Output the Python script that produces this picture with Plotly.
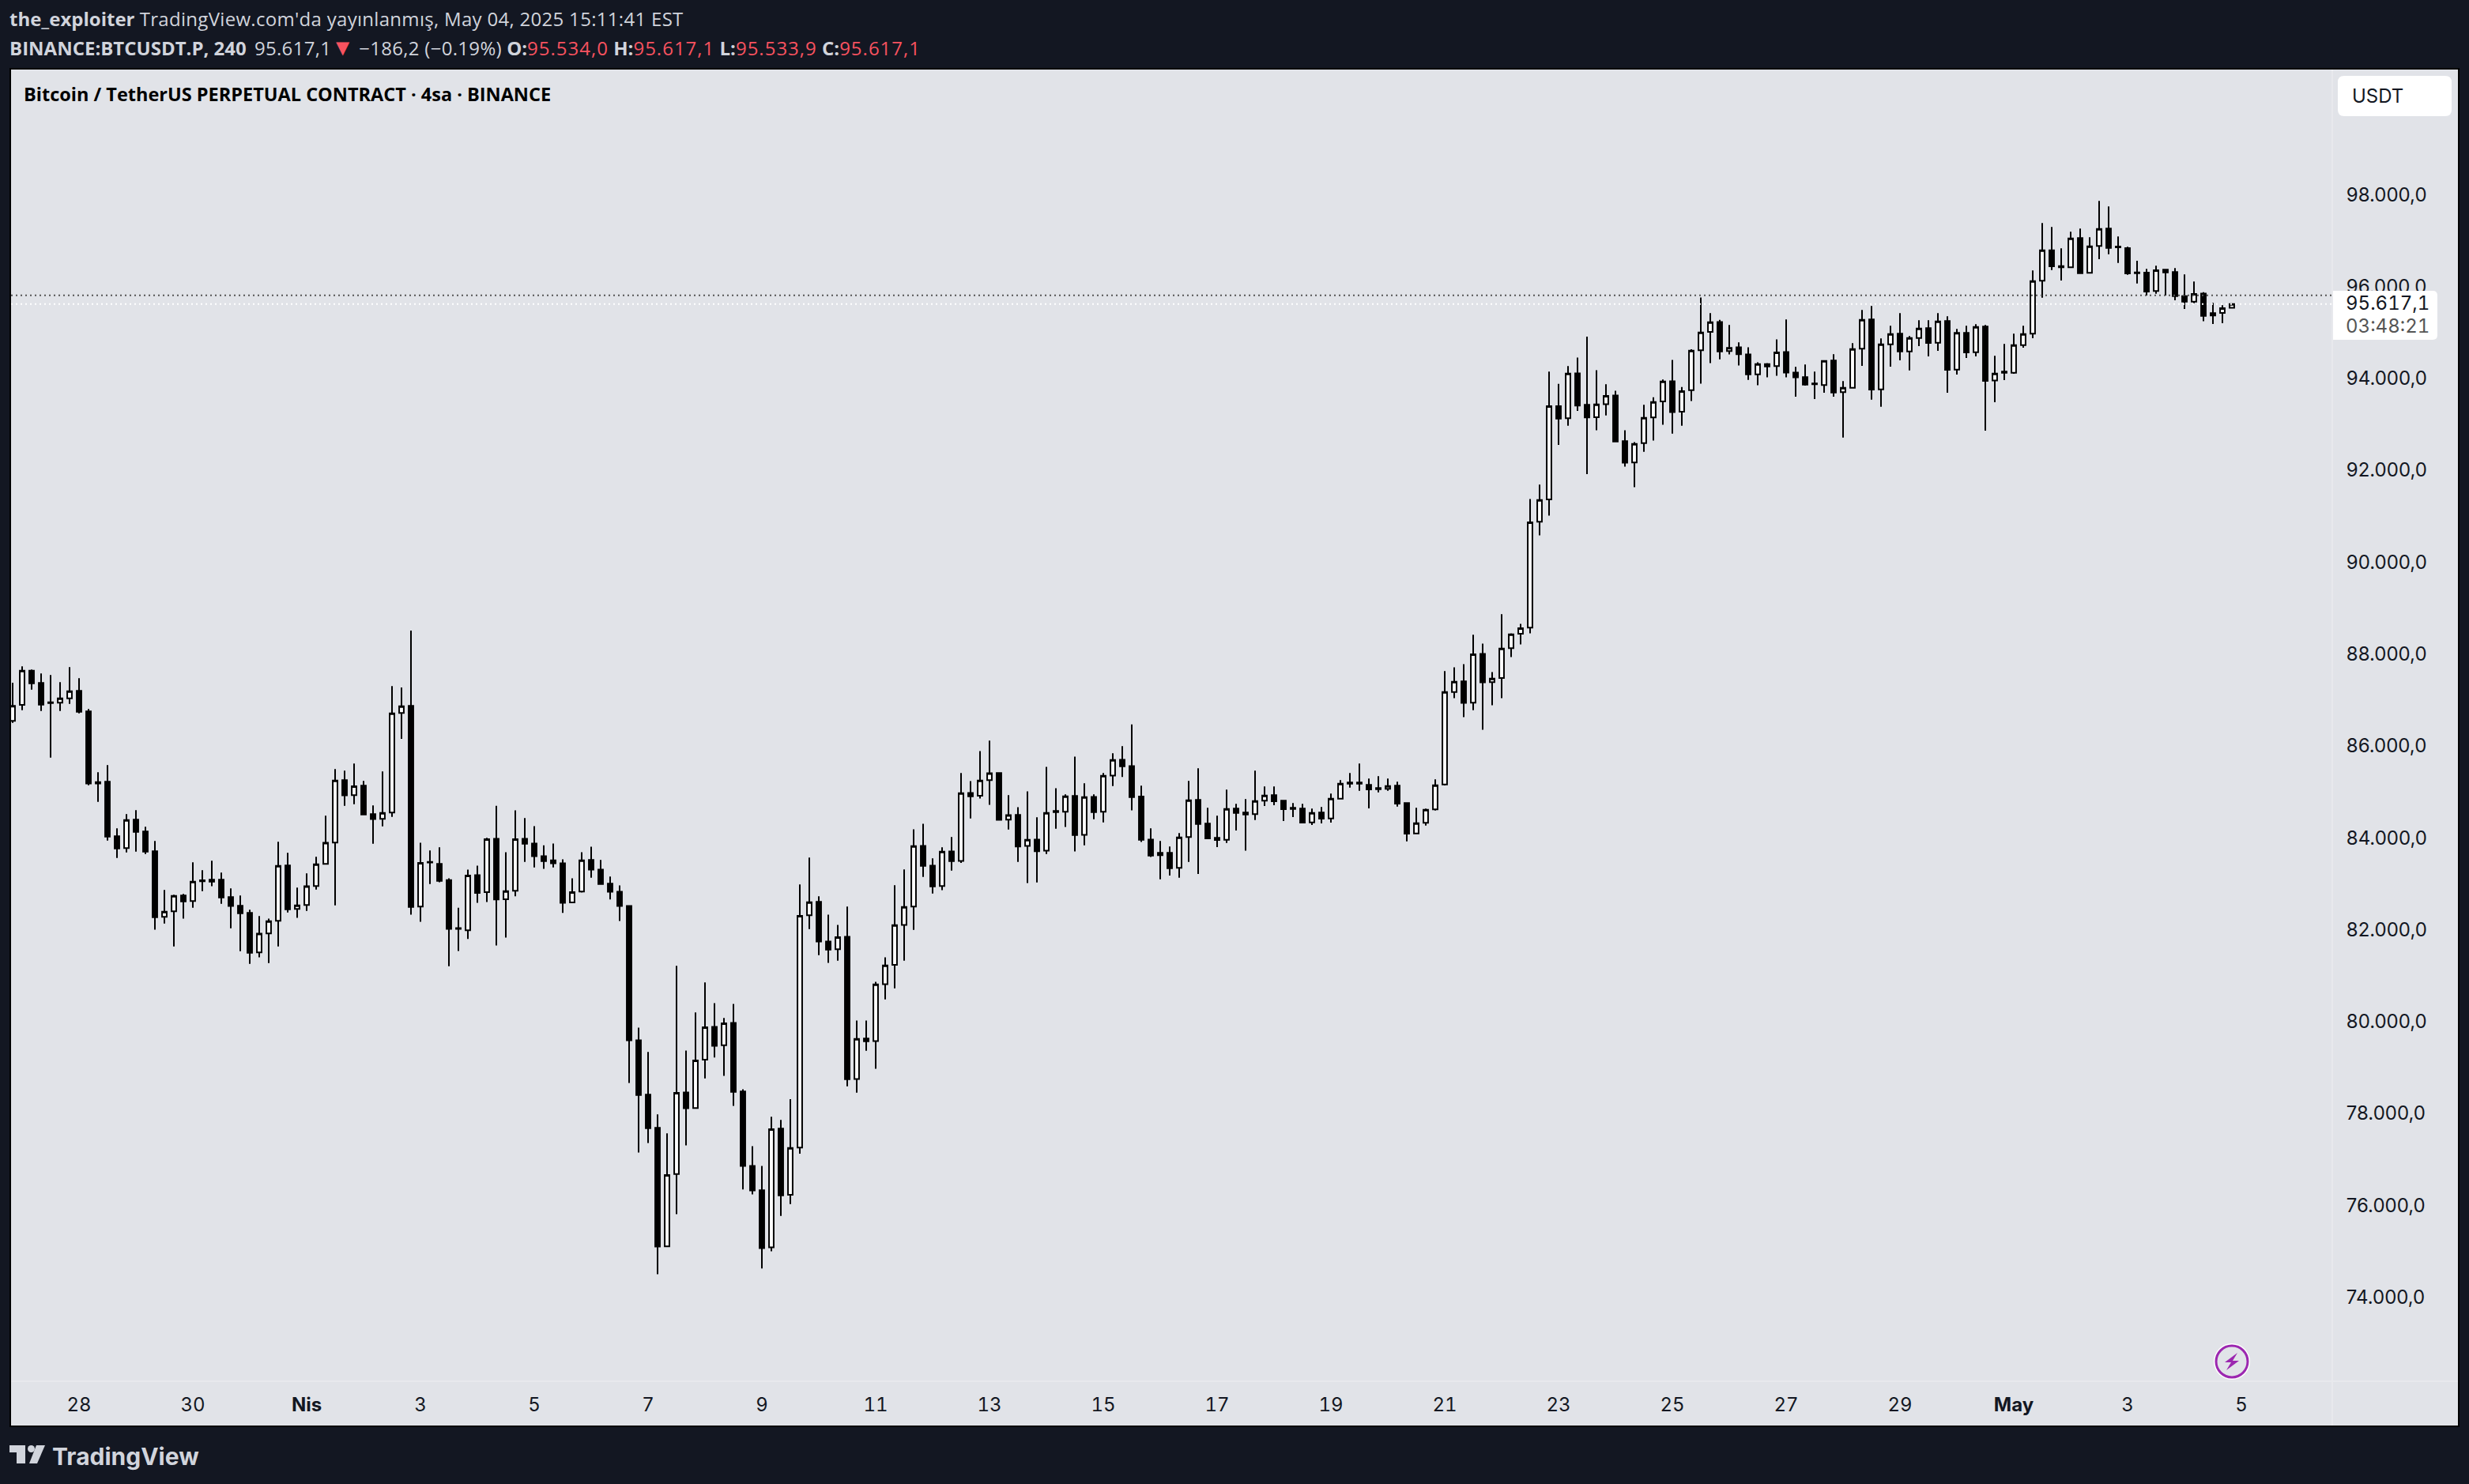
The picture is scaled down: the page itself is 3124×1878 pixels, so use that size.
import pandas as pd
import plotly.graph_objects as go

opens = [
 86542,86892,87637,87368,86949,86938,87035,87196,86748,85212,
 85218,84031,83773,84392,84134,83704,82277,82397,82741,82621,
 83073,83085,83085,82707,82517,82363,81502,81915,82191,83395,
 82449,82535,82947,83429,83893,85252,84925,85132,84513,84409,
 84547,86714,86869,82500,83475,83429,83076,82032,81986,83184,
 82815,83974,82662,82846,83974,83875,83598,83506,83445,82593,
 82830,83514,83307,82999,82823,82516,79590,78408,77686,75107,
 76680,78454,78116,79168,79882,79483,79967,78477,76857,76327,
 75083,77667,76228,77254,82313,82603,81740,81571,81842,78747,
 79628,79574,80810,81233,82102,82500,83821,83393,82947,83701,
 83496,84974,84914,85252,85408,84395,84497,83821,83960,83719,
 84582,84564,84908,84063,84889,84564,85354,85698,85559,84895,
 83960,83670,83670,83343,84014,84822,84306,83996,83956,84633,
 84547,84512,84805,84925,84805,84650,84633,84335,84547,84421,
 84851,85200,85200,85149,85080,85063,85132,84753,84094,84323,
 84616,85158,87171,87403,86940,87999,87388,87477,88126,88440,
 88574,90879,91363,93392,93131,94108,93422,93154,93437,93624,
 92631,92169,92587,93146,93497,93937,93273,93743,94608,95011,
 95227,94593,94675,94519,94086,94310,94265,94571,94123,94024,
 93886,93852,94385,93697,93795,94643,95280,93760,94741,94970,
 94586,94878,95090,94775,95245,94190,94987,94569,95125,93950,
 94144,94121,94723,94970,96122,96787,96443,96415,97051,96294,
 96879,97258,96868,96833,96306,96300,95899,96363,96312,95790,
 95669,95842,95417,95423,95534.0]
highs = [
 87373,87729,87660,87574,87540,87385,87712,87471,86800,85424,
 85579,84203,84512,84599,84237,83928,82861,82758,82775,83463,
 83291,83498,83240,82896,82741,82431,82294,82237,83910,83670,
 82913,83223,83584,84478,85493,85458,85613,85235,84702,85441,
 87299,87270,88508,83890,83721,83790,83115,82477,83307,83391,
 83998,84696,83683,84596,84428,84251,83836,83875,83529,83115,
 83683,83806,83514,83153,82961,82531,79867,79337,77978,77563,
 81210,79368,80197,80850,80397,80074,80381,78523,77287,76857,
 77924,77856,78309,82983,83568,82723,82325,82102,82500,80020,
 80020,80865,81396,82965,83309,84184,84304,83550,83791,84015,
 85408,85233,85885,86114,85414,84926,84666,85010,84443,85541,
 85077,84944,85764,85185,84944,85408,85837,85994,86464,85131,
 84203,83928,83807,84100,85235,85510,84650,84478,85046,84736,
 84839,85458,85114,85114,84822,84753,84736,84633,84667,84960,
 85252,85407,85613,85286,85338,85286,85218,84770,84650,84633,
 85269,87627,87708,87776,88417,88223,87604,88865,88447,88656,
 91371,91684,94146,93877,94265,94451,94906,94175,93870,93728,
 92870,92609,93422,93586,93974,94399,93810,94630,95760,95420,
 95272,95160,94780,94675,94347,94332,94847,95279,94248,94299,
 94144,94391,94523,93938,94764,95486,95572,94867,95142,95417,
 94918,95262,95262,95417,95348,95073,95142,95176,95159,94488,
 94746,94970,95142,96346,97378,97292,96827,97189,97258,97068,
 97859,97739,97086,96862,96558,96380,96449,96363,96398,96260,
 96105,95876,95641,95589,95617.1]
lows = [
 86502,86777,87224,86760,85745,86760,86915,86708,85143,84782,
 83939,83561,83681,83698,83647,81996,82133,81634,82237,82477,
 82838,82942,82563,82030,81531,81256,81394,81273,81634,82374,
 82254,82408,82873,83429,82529,84696,84730,84507,83870,84249,
 84455,86152,82324,82170,82992,83030,81203,81533,81794,82585,
 82600,81656,81825,82723,83475,83353,83322,83353,82362,82593,
 82807,83130,82992,82654,82186,78661,77149,77356,74500,75091,
 75805,77302,78101,78761,79214,78815,78162,76343,76235,74623,
 74999,75769,76027,77122,82011,81444,81275,81323,78590,78451,
 79362,78970,80479,80720,81323,81993,83146,82784,82856,83284,
 83453,84419,84853,84715,84389,84177,83471,83013,83025,83647,
 84196,84232,83701,83834,84401,84334,85125,85324,84594,83906,
 83580,83096,83177,83131,83475,83211,83985,83796,83887,84157,
 83716,84386,84690,84707,84363,84449,84312,84277,84312,84329,
 84851,85091,85023,84639,84988,85023,84679,83922,84077,84266,
 84593,85135,87037,86627,86776,86351,86881,87037,87932,88208,
 88447,90580,91013,92549,92967,93288,91915,92870,93191,92624,
 92079,91632,92400,92646,92990,92796,92967,93504,93885,94332,
 94414,94519,94280,93967,93847,94019,94056,94019,93600,93840,
 93548,93686,93600,92711,93795,94271,93537,93382,94253,94391,
 94173,94700,94477,94597,93686,94081,94443,94477,92860,93479,
 93961,94099,94666,94872,95755,96357,96128,96415,96289,96294,
 96592,96701,96512,96254,96065,95801,95841,95801,95698,95509,
 95635,95240,95182,95199,95533.9]
closes = [
 86869,87637,87362,86897,86932,87035,87190,86743,85178,85178,
 84025,83767,84386,84128,83698,82271,82391,82735,82615,83045,
 83051,83045,82701,82512,82357,81497,81910,82185,83389,82443,
 82529,82942,83423,83888,85246,84920,85120,84507,84404,84541,
 86708,86863,82493,83452,83460,83061,82017,82017,83176,82800,
 83967,82654,82838,83967,83867,83598,83491,83445,82585,82815,
 83506,83307,82992,82823,82516,79590,78400,77678,75099,76657,
 78446,78109,79153,79874,79468,79959,78469,76857,76320,75068,
 77655,76216,77248,82301,82597,81740,81565,81836,78741,79622,
 79567,80805,81221,82096,82494,83815,83387,82940,83695,83490,
 84968,84902,85245,85402,84389,84491,83809,83954,83707,84540,
 84558,84902,84057,84883,84558,85348,85692,85553,84883,83954,
 83610,83618,83337,84008,84816,84300,83985,83951,84627,84541,
 84507,84799,84919,84793,84621,84627,84329,84541,84415,84851,
 85177,85177,85177,85051,85057,85126,84742,84088,84317,84610,
 85143,87171,87395,86933,87992,87380,87462,88119,88425,88559,
 90864,91349,93392,93124,94101,93407,93146,93430,93616,92624,
 92162,92572,93139,93482,93929,93265,93720,94601,94996,95220,
 94586,94660,94526,94086,94310,94258,94563,94123,94019,93862,
 93869,94379,93691,93795,94637,95274,93755,94741,94964,94586,
 94878,95085,94769,95239,94185,94987,94563,95119,93944,94104,
 94121,94723,94964,96117,96787,96438,96415,97045,96289,96873,
 97252,96839,96850,96283,96289,95887,96352,96306,95790,95669,
 95836,95360,95366,95526,95617.1]

first_candle = "2025-03-26 20:00"
times = pd.date_range(first_candle, periods=len(opens), freq="4h")

price_ticks = [98000, 96000, 94000, 92000, 90000, 88000, 86000, 84000, 82000, 80000, 78000, 76000, 74000]
price_labels = ["98.000,0", "96.000,0", "94.000,0", "92.000,0", "90.000,0", "88.000,0", "86.000,0",
                "84.000,0", "82.000,0", "80.000,0", "78.000,0", "76.000,0", "74.000,0"]
time_ticks = ["2025-03-28", "2025-03-30", "2025-04-01", "2025-04-03", "2025-04-05", "2025-04-07", "2025-04-09",
              "2025-04-11", "2025-04-13", "2025-04-15", "2025-04-17", "2025-04-19", "2025-04-21", "2025-04-23",
              "2025-04-25", "2025-04-27", "2025-04-29", "2025-05-01", "2025-05-03", "2025-05-05"]
time_labels = ["28", "30", "<b>Nis</b>", "3", "5", "7", "9", "11", "13", "15", "17", "19", "21", "23", "25", "27",
               "29", "<b>May</b>", "3", "5"]
last_price = 95617.1
prev_close = 95803.3

W, H = 3124, 1878
L, R, T, B = 14, 2951, 88, 1748
BG = "#131722"
PANEL = "#E1E3E8"
TXT = "#D1D4DC"
RED = "#F7525F"
UI = "Inter, Roboto, sans-serif"
HEAD = "'Open Sans', 'Noto Sans', sans-serif"
TNUM = "font-feature-settings:\"tnum\""

def tab(text):
    return f"<span style='font-feature-settings:\"tnum\"'>{text}</span>"

def fx(x):
    return (x - L) / (R - L)

def fy(y):
    return (B - y) / (B - T)

def poly(points):
    return "M" + " L".join(f"{fx(x):.6f},{fy(y):.6f}" for x, y in points) + " Z"

def rrect(x0, y0, x1, y1, r0, r1):
    return (f"M{fx(x0+r0):.6f},{fy(y0):.6f} L{fx(x1-r1):.6f},{fy(y0):.6f} Q{fx(x1):.6f},{fy(y0):.6f} {fx(x1):.6f},{fy(y0+r1):.6f} "
            f"L{fx(x1):.6f},{fy(y1-r1):.6f} Q{fx(x1):.6f},{fy(y1):.6f} {fx(x1-r1):.6f},{fy(y1):.6f} "
            f"L{fx(x0+r0):.6f},{fy(y1):.6f} Q{fx(x0):.6f},{fy(y1):.6f} {fx(x0):.6f},{fy(y1-r0):.6f} "
            f"L{fx(x0):.6f},{fy(y0+r0):.6f} Q{fx(x0):.6f},{fy(y0):.6f} {fx(x0+r0):.6f},{fy(y0):.6f} Z")

def paper_shape(**kw):
    return dict(xref="paper", yref="paper", **kw)

shapes = [
    paper_shape(type="rect", x0=fx(13), x1=fx(3111), y0=fy(87), y1=fy(1805), fillcolor=PANEL,
                line=dict(color="#000000", width=2), layer="below"),
    paper_shape(type="line", x0=fx(R), x1=fx(R), y0=fy(88), y1=fy(1804), line=dict(color="#E8E9ED", width=2), layer="below"),
    paper_shape(type="line", x0=fx(14), x1=fx(3110), y0=fy(B), y1=fy(B), line=dict(color="#E8E9ED", width=2), layer="below"),
    # price lines
    dict(type="line", xref="paper", yref="y", x0=0, x1=1, y0=prev_close, y1=prev_close,
         line=dict(color="#555555", width=2, dash="2px,4px"), layer="above"),
    dict(type="line", xref="paper", yref="y", x0=0, x1=1, y0=last_price, y1=last_price,
         line=dict(color="#FFFFFF", width=2, dash="2px,4px"), layer="above"),
    # last price tag
    paper_shape(type="path", path=rrect(2952, 368, 3084, 430, 0, 6), fillcolor="#FFFFFF", line=dict(width=0), layer="above"),
    # currency button
    paper_shape(type="path", path=rrect(2958, 96, 3102, 147, 8, 8), fillcolor="#FFFFFF", line=dict(width=0), layer="above"),
    # flash icon
    paper_shape(type="circle", x0=fx(2801), x1=fx(2847), y0=fy(1700), y1=fy(1746), fillcolor="#FFFFFF", line=dict(width=0), layer="above"),
    paper_shape(type="circle", x0=fx(2804), x1=fx(2844), y0=fy(1703), y1=fy(1743), fillcolor=PANEL, line=dict(color="#9C27B0", width=3), layer="above"),
    paper_shape(type="path", path=poly([(2831, 1712), (2815, 1724), (2823, 1724), (2817, 1734), (2833, 1722), (2825, 1722)]),
                fillcolor="#9C27B0", line=dict(width=0), layer="above"),
    # logo
    paper_shape(type="path", path=poly([(12, 1829), (32, 1829), (32, 1852), (21, 1852), (21, 1838), (12, 1838)]),
                fillcolor=TXT, line=dict(width=0), layer="above"),
    paper_shape(type="circle", x0=fx(35), x1=fx(44), y0=fy(1829), y1=fy(1838), fillcolor=TXT, line=dict(width=0), layer="above"),
    paper_shape(type="path", path=poly([(46, 1829), (57, 1829), (47, 1852), (37, 1852)]), fillcolor=TXT, line=dict(width=0), layer="above"),
]

def note(x, y, text, size, color, font=HEAD, anchor="left"):
    return dict(xref="paper", yref="paper", x=fx(x), y=fy(y), xanchor=anchor, yanchor="middle", showarrow=False,
                text=text, align="left", font=dict(family=font, size=size, color=color))

def wide(text, spacing):
    return f"<span style='letter-spacing:{spacing}px'>{text}</span>"

def red(text):
    return f"<span style='color:{RED};letter-spacing:1px'>{text}</span>"

row2 = (f"<b>BINANCE:BTCUSDT.P, 240</b> \u2009{wide('95.617,1', 0.3)}<span style='color:{RED};font-size:29px'>▼</span> "
        f"{wide('−186,2 (−0.19%)', 0.3)} "
        f"<b>O:</b>{red('95.534,0')} <b>H:</b>{red('95.617,1')} <b>L:</b>{red('95.533,9')} <b>C:</b>{red('95.617,1')}")
row1 = "<b>the_exploiter</b> " + wide("TradingView.com'da yayınlanmış, May 04, 2025 15:11:41 EST", 0.3)

annotations = [
    note(10, 24, row1, 24, TXT),
    note(10, 59, row2, 24, TXT),
    note(28, 119, "<b>Bitcoin / TetherUS PERPETUAL CONTRACT · 4sa · BINANCE</b>", 23.5, "#000000"),
    note(2974, 121, "USDT", 24, "#131722", UI),
    note(2966, 384, tab("95.617,1"), 24, "#131722", UI),
    note(2966, 412, tab("03:48:21"), 24, "#555555", UI),
    note(64, 1843, "<b>TradingView</b>", 30, TXT, UI),
]

step = pd.Timedelta(hours=4)
x_start = times[0] + step * ((L - 16) / 12)
x_end = times[0] + step * ((R - 16) / 12)
y_low = last_price + (384.7 - B) * 17.2
y_high = last_price + (384.7 - T) * 17.2

fig = go.Figure(go.Candlestick(
    x=times, open=opens, high=highs, low=lows, close=closes,
    increasing=dict(line=dict(color="#000000", width=2), fillcolor="#FFFFFF"),
    decreasing=dict(line=dict(color="#000000", width=2), fillcolor="#000000"),
    whiskerwidth=0, showlegend=False, hoverinfo="skip",
))
fig.update_layout(
    width=W, height=H, autosize=False,
    margin=dict(l=L, r=W - R, t=T, b=H - B, pad=0),
    paper_bgcolor=BG, plot_bgcolor="rgba(0,0,0,0)",
    boxgap=0.3, showlegend=False, shapes=shapes, annotations=annotations,
    xaxis=dict(type="date", range=[x_start, x_end], rangeslider=dict(visible=False), showgrid=False, zeroline=False,
               showline=False, tickmode="array", tickvals=time_ticks,
               ticktext=[t if t.startswith("<") else tab(t) for t in time_labels], ticks="outside", ticklen=8,
               tickcolor="rgba(0,0,0,0)", tickfont=dict(family=UI, size=24, color="#131722")),
    yaxis=dict(side="right", range=[y_low, y_high], showgrid=False, zeroline=False, showline=False, tickmode="array",
               tickvals=price_ticks, ticktext=price_labels, ticks="outside", ticklen=12, tickcolor="rgba(0,0,0,0)",
               tickfont=dict(family=UI, size=24, color="#131722")),
)
fig.write_html("out.html", config=dict(displayModeBar=False),
               post_script="document.body.style.margin='0';document.body.style.background='#131722';document.documentElement.style.overflow='hidden';")
